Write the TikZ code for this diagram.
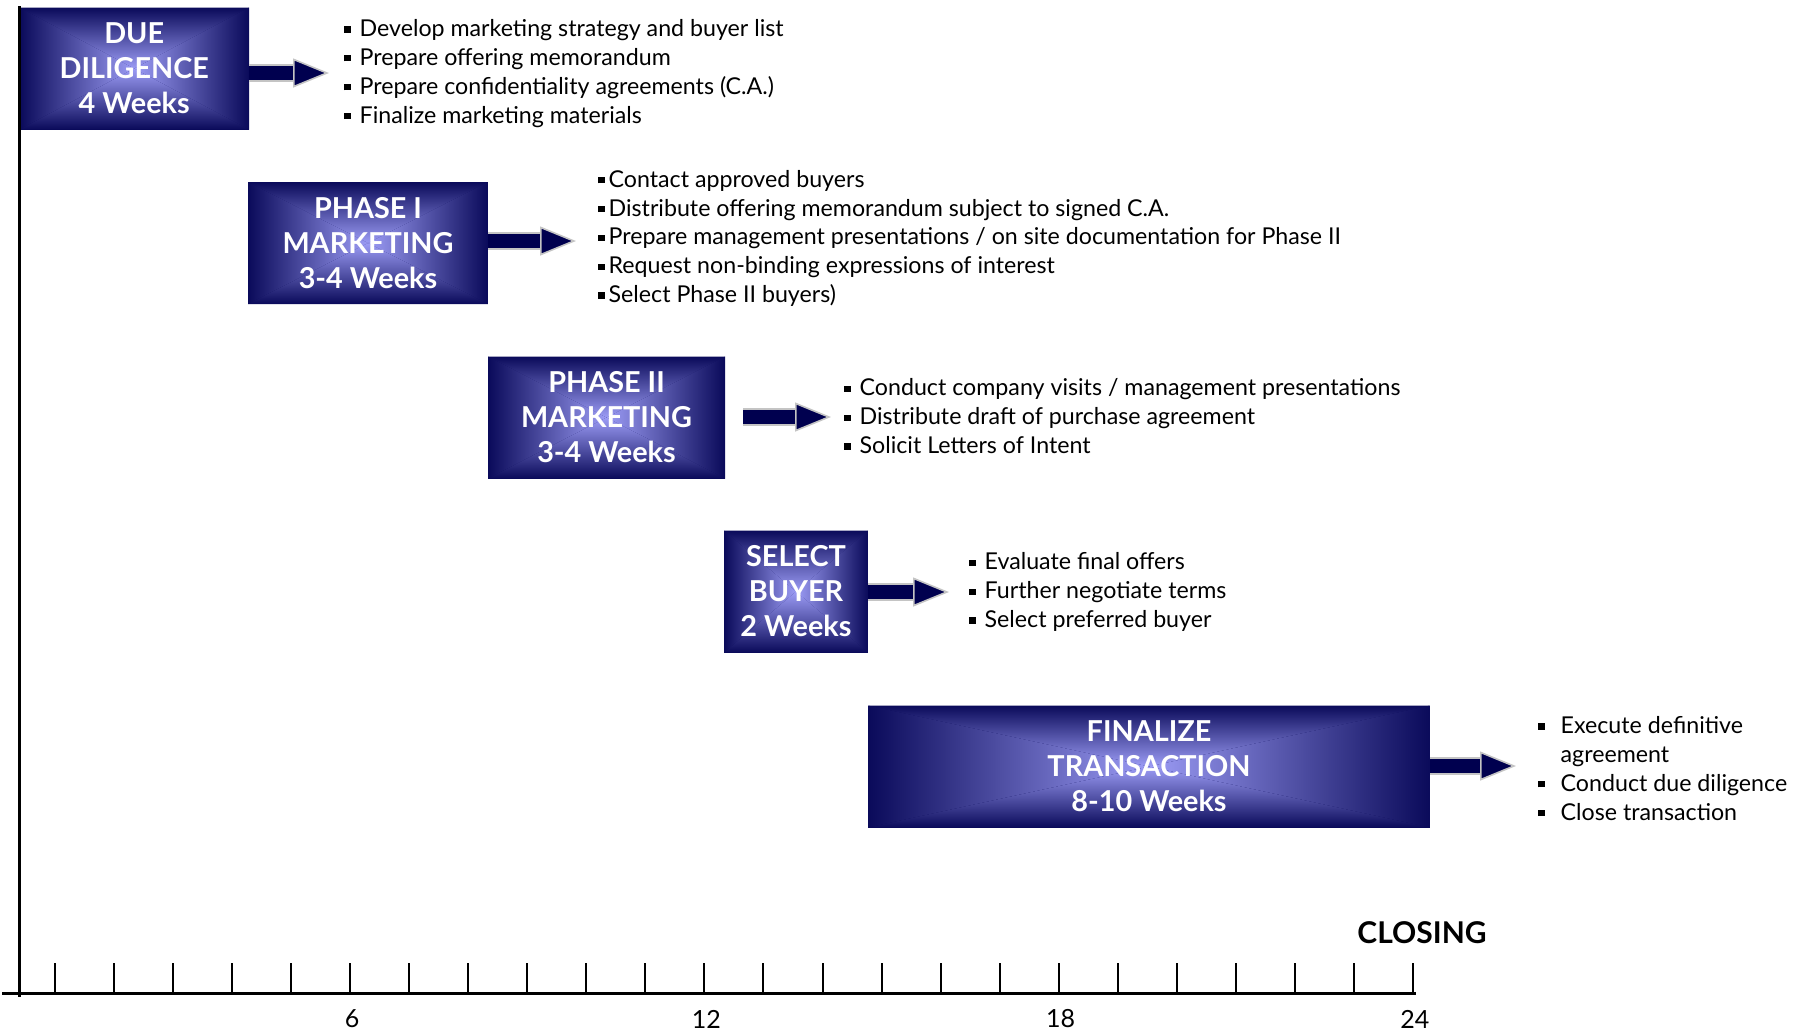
\documentclass[tikz,border=0pt]{standalone}
\usepackage{fontspec}
\setmainfont{Lato}
\usetikzlibrary{arrows.meta}
\definecolor{edge}{HTML}{0A0A5A}
\definecolor{glow}{HTML}{9C9CF5}
\definecolor{navy}{HTML}{00004F}
\definecolor{rim}{HTML}{C4C4C4}
\newcommand{\sq}[1][4.5pt]{\rule[0.17em]{0.27em}{0.27em}\hspace{#1}}

\begin{document}
\begin{tikzpicture}[x=0.5pt, y=-0.5pt,
  phase/.style={fill=edge, text=white, inner sep=0pt, minimum height=61pt, align=center,
    font=\fontsize{14.4}{17.5}\selectfont\bfseries,
    path picture={
      \coordinate (mid) at (path picture bounding box.center);
      \shade[top color=edge, bottom color=glow] (path picture bounding box.north west) -- (path picture bounding box.north east) -- (mid) -- cycle;
      \shade[top color=glow, bottom color=edge] (path picture bounding box.south west) -- (path picture bounding box.south east) -- (mid) -- cycle;
      \shade[left color=edge, right color=glow] (path picture bounding box.north west) -- (path picture bounding box.south west) -- (mid) -- cycle;
      \shade[left color=glow, right color=edge] (path picture bounding box.north east) -- (path picture bounding box.south east) -- (mid) -- cycle;
    }},
  notes/.style={anchor=base west, inner sep=0pt, align=left, font=\fontsize{11.6}{14.4}\selectfont},
  bigarrow/.style={draw=navy, line width=7pt,
    -{Triangle[length=18pt, width=14.5pt, fill=navy, color=rim, line width=0.8pt]},
    preaction={draw=rim, line width=8.6pt, -, shorten >=16pt}},
  axis/.style={line width=1.5pt},
  tick/.style={line width=1pt},
  weeklabel/.style={font=\fontsize{12.5}{14}\selectfont, inner sep=0pt}]
\useasboundingbox (0,0) rectangle (1798,1035);

% phases
\node[phase, minimum width=114.75pt] (dd) at (134.25,68.5) {DUE\\DILIGENCE\\4 Weeks};
\node[phase, minimum width=120pt] (p1) at (368,243) {PHASE I\\MARKETING\\3-4 Weeks};
\node[phase, minimum width=118.5pt] (p2) at (606.5,417.5) {PHASE II\\MARKETING\\3-4 Weeks};
\node[phase, minimum width=72pt] (sel) at (796,591.5) {SELECT\\BUYER\\2 Weeks};
\node[phase, minimum width=281pt] (fin) at (1149,766.5) {FINALIZE\\TRANSACTION\\8-10 Weeks};

% task lists (placed by their last baseline)
\node[notes] (dd-list) at (344,123) {\sq Develop marketing strategy and buyer list\\
  \sq Prepare offering memorandum\\
  \sq Prepare confidentiality agreements (C.A.)\\
  \sq Finalize marketing materials};
\node[notes] (p1-list) at (598,302.5) {\sq[2pt]Contact approved buyers\\
  \sq[2pt]Distribute offering memorandum subject to signed C.A.\\
  \sq[2pt]Prepare management presentations / on site documentation for Phase II\\
  \sq[2pt]Request non-binding expressions of interest\\
  \sq[2pt]Select Phase II buyers)};
\node[notes] (p2-list) at (844,453.5) {\sq Conduct company visits / management presentations\\
  \sq Distribute draft of purchase agreement\\
  \sq Solicit Letters of Intent};
\node[notes] (sel-list) at (969,627.5) {\sq Evaluate final offers\\
  \sq Further negotiate terms\\
  \sq Select preferred buyer};
\node[notes] (fin-list) at (1538,820) {\sq[8pt]Execute definitive\\
  \phantom{\sq[8pt]}agreement\\
  \sq[8pt]Conduct due diligence\\
  \sq[8pt]Close transaction};

% arrows
\coordinate (dd-tip) at (329,73);
\coordinate (p1-tip) at (576,241);
\coordinate (p2-tip) at (831,417);
\coordinate (sel-tip) at (949,592);
\coordinate (fin-tip) at (1516,766);
\draw[bigarrow] (dd.east |- dd-tip) -- (dd-tip);
\draw[bigarrow] (p1.east |- p1-tip) -- (p1-tip);
\draw[bigarrow, shorten <=9pt] (p2.east |- p2-tip) -- (p2-tip);
\draw[bigarrow] (sel.east |- sel-tip) -- (sel-tip);
\draw[bigarrow] (fin.east |- fin-tip) -- (fin-tip);

% time axis
\draw[axis] (19.5,6) -- (19.5,997);
\draw[axis] (2,993) -- (1416,993);
\foreach \n in {1,...,24}
  \draw[tick] ({55+(\n-1)*59.04},963) -- ({55+(\n-1)*59.04},993);
\foreach \n in {6,12,18,24}
  \node[weeklabel] (wk\n) at ({57+(\n-1)*59.04},1019) {\n};
\node[font=\fontsize{15}{17}\selectfont\bfseries, inner sep=0pt] (closing) at (1422,933) {CLOSING};
\end{tikzpicture}
\end{document}
